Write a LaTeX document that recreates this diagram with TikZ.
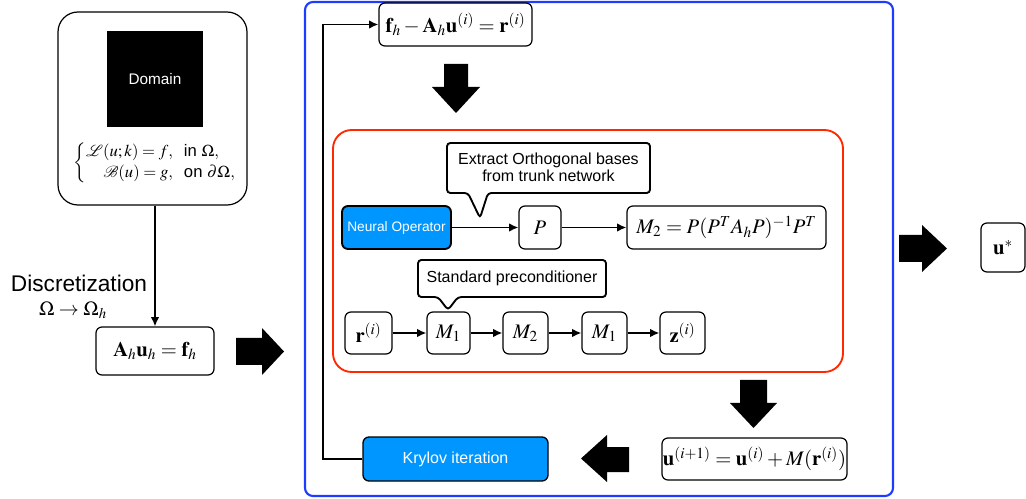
\documentclass[tikz,border=0pt]{standalone}
\usepackage{amsmath}
\usepackage{mathptmx}
\usepackage{mathrsfs}
\usepackage{fontspec}
\setmainfont{Liberation Serif}
\setsansfont{Liberation Sans}
\usetikzlibrary{arrows.meta}
\definecolor{bluebox}{RGB}{30,60,255}
\definecolor{redbox}{RGB}{255,40,0}
\definecolor{bluefill}{RGB}{0,150,255}
\newcommand\mfs{\fontsize{15.5}{18}\selectfont}
\newcommand\pxu{0.75pt}
\begin{document}
\begin{tikzpicture}[x=0.75pt,y=-0.75pt,
  mbox/.style={draw, rounded corners=4.5pt, line width=0.9pt, inner sep=0pt, font=\mfs},
  bluenode/.style={draw, fill=bluefill, rounded corners=4.5pt, line width=1pt, inner sep=0pt, text=white, font=\sffamily\fontsize{12}{14}\selectfont},
  conn/.style={-{Latex[length=7pt,width=6.5pt]}, line width=1.35pt},
  fat/.style={fill=black},
  callout/.style={draw, line width=1.4pt, rounded corners=2.5pt},
  calltext/.style={font=\sffamily\fontsize{12}{13}\selectfont, align=center, inner sep=0pt}
]
\useasboundingbox (0,0) rectangle (1026,499);

% left domain box
\node[draw, rounded corners=15pt, line width=0.9pt, minimum width=189*\pxu, minimum height=193*\pxu] (leftbox) at (152.5,108.5) {};
\node[fill=black, minimum width=96*\pxu, minimum height=96*\pxu, inner sep=0pt, text=white, font=\sffamily\fontsize{11.5}{13}\selectfont] (domain) at (155,79) {Domain};
\node[inner sep=0pt, font=\fontsize{12.5}{15}\selectfont] (pde) at (155,163)
  {$\left\{\begin{array}{@{}r@{\;\;\;}l@{}} \mathscr{L}(u;k)=f, & \text{\sffamily in } \Omega,\\[1pt] \mathscr{B}(u)=g, & \text{\sffamily on } \partial\Omega, \end{array}\right.$};

\node[mbox, minimum width=118*\pxu, minimum height=48*\pxu] (ah) at (155,351) {$\mathbf{A}_h\mathbf{u}_h=\mathbf{f}_h$};
\draw[conn] (leftbox.south -| ah.north) -- (ah.north);
\node[inner sep=0pt, font=\sffamily\fontsize{17}{19}\selectfont] (disc) at (79,283) {Discretization};
\node[inner sep=0pt, font=\fontsize{15}{17}\selectfont] (omega) at (73,310) {$\Omega\rightarrow\Omega_h$};

% fat arrow 1
\fill[fat] (236,338) -- (262,338) -- (262,328) -- (284,351.5) -- (262,375) -- (262,365) -- (236,365) -- cycle;

% blue frame
\draw[bluebox, line width=1.6pt, rounded corners=6pt] (305,2) rectangle (893,496);

\node[mbox, minimum width=153*\pxu, minimum height=43*\pxu] (res) at (455.5,24.5) {$\mathbf{f}_h-\mathbf{A}_h\mathbf{u}^{(i)}=\mathbf{r}^{(i)}$};

\fill[fat] (444,64) -- (468,64) -- (468,87) -- (480,87) -- (456,113) -- (432,87) -- (444,87) -- cycle;

% red frame
\draw[redbox, line width=1.4pt, rounded corners=14pt] (333,130) rectangle (843,372);

% callout 1
\draw[callout] (447,143) -- (650,143) -- (650,193) -- (488,193) -- (480,218) -- (468,193) -- (447,193) -- cycle;
\node[calltext] (call1) at (548.5,167) {Extract Orthogonal bases\\from trunk network};

\node[bluenode, line width=1.4pt, minimum width=109*\pxu, minimum height=43*\pxu, font=\sffamily\fontsize{10.3}{12}\selectfont] (neural) at (396.5,227.5) {Neural Operator};
\node[mbox, minimum width=42*\pxu, minimum height=43*\pxu] (P) at (540,227.5) {$P$};
\node[mbox, minimum width=199*\pxu, minimum height=43*\pxu] (M2def) at (726.5,227.5) {$M_2=P(P^TA_hP)^{-1}P^T$};
\draw[conn] (neural) -- (P);
\draw[conn] (P) -- (M2def);

% callout 2
\draw[callout] (418,260) -- (606,260) -- (606,297) -- (458,297) -- (448,310) -- (438,297) -- (418,297) -- cycle;
\node[calltext] (call2) at (512,278.5) {Standard preconditioner};

\node[mbox, minimum width=47*\pxu, minimum height=42*\pxu] (r) at (368.5,333) {$\mathbf{r}^{(i)}$};
\node[mbox, minimum width=43*\pxu, minimum height=42*\pxu] (m1a) at (448.5,333) {$M_1$};
\node[mbox, minimum width=45*\pxu, minimum height=42*\pxu] (m2) at (525.5,333) {$M_2$};
\node[mbox, minimum width=45*\pxu, minimum height=42*\pxu] (m1b) at (604.5,333) {$M_1$};
\node[mbox, minimum width=45*\pxu, minimum height=42*\pxu] (z) at (682.5,333) {$\mathbf{z}^{(i)}$};
\draw[conn] (r) -- (m1a);
\draw[conn] (m1a) -- (m2);
\draw[conn] (m2) -- (m1b);
\draw[conn] (m1b) -- (z);

\fill[fat] (740,380) -- (767,380) -- (767,403) -- (777,403) -- (753.5,428) -- (730,403) -- (740,403) -- cycle;

\node[mbox, minimum width=185*\pxu, minimum height=42*\pxu] (upd) at (754.5,459) {$\mathbf{u}^{(i+1)}=\mathbf{u}^{(i)}+M(\mathbf{r}^{(i)})$};

\fill[fat] (629,447) -- (607,447) -- (607,435) -- (581,458.5) -- (607,482) -- (607,472) -- (629,472) -- cycle;

\node[bluenode, minimum width=185*\pxu, minimum height=44*\pxu] (kry) at (455.5,459) {Krylov iteration};

\coordinate (loopc) at (323,459);
\draw[conn] (kry.west) -- (loopc) |- (res.west);

% output
\fill[fat] (899,235) -- (922,235) -- (922,225) -- (947,248.5) -- (922,272) -- (922,262) -- (899,262) -- cycle;
\node[mbox, minimum width=44*\pxu, minimum height=49*\pxu] (ustar) at (1003,247.5) {$\mathbf{u}^*$};
\end{tikzpicture}
\end{document}
